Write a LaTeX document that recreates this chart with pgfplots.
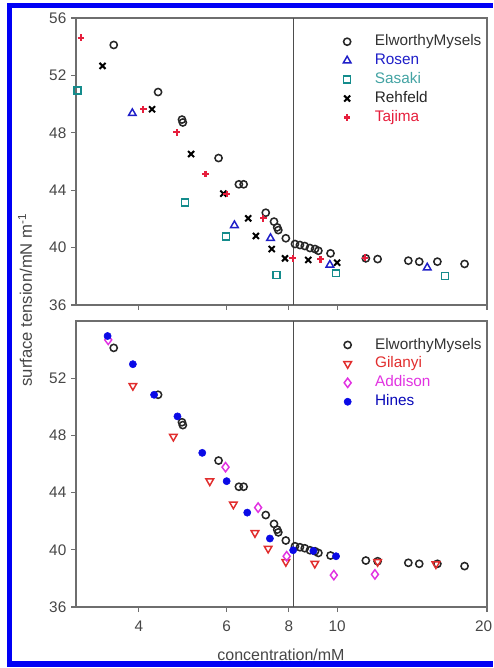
\documentclass[border=0pt]{standalone}
\usepackage{fontspec}
\setmainfont{Liberation Sans}
\usepackage{pgfplots}
\pgfplotsset{compat=1.18}
\usepackage{pgfplotstable}

\definecolor{rosen}{RGB}{30,30,200}
\definecolor{sasaki}{RGB}{20,140,140}
\definecolor{tajima}{RGB}{230,30,60}
\definecolor{gilanyi}{RGB}{225,45,45}
\definecolor{addison}{RGB}{225,50,225}
\definecolor{hines}{RGB}{10,10,230}
\definecolor{spine}{RGB}{110,110,110}
\definecolor{ticklab}{RGB}{70,70,70}
\definecolor{frameblue}{RGB}{0,0,245}

% concentration/mM  surface tension/mN m^-1
\pgfplotstableread{
x y
3.56 54.12
4.37 50.84
4.88 48.92
4.90 48.72
5.78 46.24
6.35 44.41
6.49 44.41
7.19 42.43
7.47 41.81
7.58 41.41
7.62 41.22
7.89 40.65
8.23 40.25
8.42 40.18
8.61 40.11
8.82 39.97
9.03 39.90
9.17 39.78
9.70 39.60
11.42 39.25
12.06 39.20
13.90 39.09
14.62 39.02
15.90 39.02
18.03 38.86
}\elworthy

\pgfplotstableread{
x y
3.88 49.36
6.22 41.55
7.35 40.65
9.67 38.79
15.17 38.60
}\rosen

\pgfplotstableread{
x y
3.01 50.94
4.95 43.15
5.98 40.76
7.56 38.09
9.94 38.21
16.47 38.02
}\sasaki

\pgfplotstableread{
x y
3.38 52.66
4.25 49.64
5.09 46.52
5.91 43.76
6.63 42.04
6.87 40.81
7.39 39.90
7.86 39.25
8.75 39.14
10.00 38.95
}\rehfeld

\pgfplotstableread{
x y
3.06 54.63
4.08 49.64
4.76 48.03
5.44 45.13
6.00 43.74
7.11 42.04
8.14 39.25
9.26 39.18
11.37 39.30
}\tajima

\pgfplotstableread{
x y
3.89 51.47
4.69 47.92
5.55 44.80
6.19 43.18
6.84 41.18
7.27 40.09
7.89 39.16
9.02 39.04
12.06 39.16
15.79 39.00
}\gilanyi

\pgfplotstableread{
x y
3.47 54.68
5.97 45.78
6.94 42.95
7.92 39.55
9.85 38.23
11.91 38.28
}\addison

\pgfplotstableread{
x y
3.46 54.95
3.89 52.98
4.29 50.84
4.78 49.33
5.36 46.78
6.00 44.80
6.60 42.60
7.33 40.79
8.16 39.97
8.96 39.92
9.95 39.55
}\hines

\pgfplotsset{
  em/.style={only marks, mark=o, mark size=2.7pt, line width=1.15pt, black!85},
  legend image code/.code={\draw[#1] plot coordinates {(0pt,0pt)}; \path (-5.7pt,0pt) (19.5pt,0pt);},
}

\begin{document}
\begin{tikzpicture}
% upper panel
\begin{axis}[scale only axis, anchor=south west, width=308.25pt, height=215.25pt,
  at={(57pt,272.25pt)},
  xmode=log, xmin=2.99, xmax=20, ymin=36, ymax=56,
  xtick={4,6,8,10,20}, xticklabels={}, ytick={36,40,...,56},
  clip mode=individual,
  tick pos=left, tick align=outside, major tick length=3.75pt,
  axis line style={spine, line width=0.9pt},
  tick style={spine, line width=0.8pt},
  /pgf/number format/assume math mode=true,
  tick label style={font=\fontsize{11.5}{13}\selectfont, text=ticklab},
  legend style={draw=none, fill=none, anchor=north west, inner sep=0pt,
    font=\fontsize{11.5}{13}\selectfont, row sep=2.7pt,
    nodes={inner sep=0.5pt, text height=8.3pt, text depth=2.2pt},
    at={(0.638,0.945)}},
  legend cell align=left]
\addplot[forget plot, spine!70!black, line width=0.8pt] coordinates {(8.19,36) (8.19,56)};
\addplot[em] table {\elworthy};
\addlegendentry{\textcolor{black!80}{ElworthyMysels}}
\addplot[only marks, mark=triangle, mark size=3.3pt, line width=1.1pt, rosen] table {\rosen};
\addlegendentry{\textcolor{rosen}{Rosen}}
\addplot[only marks, mark=square, mark size=2.6pt, line width=1.1pt, sasaki] table {\sasaki};
\addlegendentry{\textcolor{sasaki!80}{Sasaki}}
\addplot[only marks, mark=x, mark size=3.2pt, line width=1.5pt, black] table {\rehfeld};
\addlegendentry{\textcolor{black!85}{Rehfeld}}
\addplot[only marks, mark=+, mark size=2.5pt, line width=1.6pt, tajima] table {\tajima};
\addlegendentry{\textcolor{tajima}{Tajima}}
\end{axis}

% lower panel
\begin{axis}[scale only axis, anchor=south west, width=308.25pt, height=214.5pt,
  at={(57pt,45.75pt)},
  xmode=log, xmin=2.99, xmax=20, ymin=36, ymax=56,
  xtick={4,6,8,10,20}, xticklabels={4,6,8,10,{\kern-5pt 20}}, ytick={36,40,...,52},
  clip mode=individual,
  tick pos=left, tick align=outside, major tick length=3.75pt,
  axis line style={spine, line width=0.9pt},
  tick style={spine, line width=0.8pt},
  /pgf/number format/assume math mode=true,
  tick label style={font=\fontsize{11.5}{13}\selectfont, text=ticklab},
  xticklabel style={yshift=-3pt},
  legend style={draw=none, fill=none, anchor=north west, inner sep=0pt,
    font=\fontsize{11.5}{13}\selectfont, row sep=2.7pt,
    nodes={inner sep=0.5pt, text height=8.3pt, text depth=2.2pt},
    at={(0.640,0.944)}},
  legend cell align=left]
\addplot[forget plot, spine!70!black, line width=0.8pt] coordinates {(8.19,36) (8.19,56)};
\addplot[em] table {\elworthy};
\addlegendentry{\textcolor{black!80}{ElworthyMysels}}
\addplot[only marks, mark=triangle, mark size=3.3pt, line width=1.1pt, gilanyi, mark options={rotate=180}] table {\gilanyi};
\addlegendentry{\textcolor{gilanyi}{Gilanyi}}
\addplot[only marks, mark=diamond, mark size=3.5pt, line width=1.1pt, addison] table {\addison};
\addlegendentry{\textcolor{addison}{Addison}}
\addplot[only marks, mark=*, mark size=2.7pt, hines, mark options={draw=none, fill=hines}] table {\hines};
\addlegendentry{\textcolor{hines!80!black}{Hines}}
\end{axis}

\node[rotate=90, font=\fontsize{12.5}{14}\selectfont, text=ticklab] at (18.75pt,276pt) {surface tension/mN m\textsuperscript{-1}};
\node[font=\fontsize{12}{14}\selectfont, text=ticklab] at (210.75pt,9.75pt) {concentration/mM};

% blue border (left, top, bottom; cut off at the right)
\fill[frameblue] (5.25pt,0.75pt) rectangle (9pt,498.75pt);
\fill[frameblue] (5.25pt,495pt) rectangle (369.5pt,498.75pt);
\fill[frameblue] (5.25pt,0.75pt) rectangle (369.5pt,5.25pt);

\pgfresetboundingbox
\path[use as bounding box] (0pt,0pt) rectangle (369.75pt,501pt);
\end{tikzpicture}
\end{document}
